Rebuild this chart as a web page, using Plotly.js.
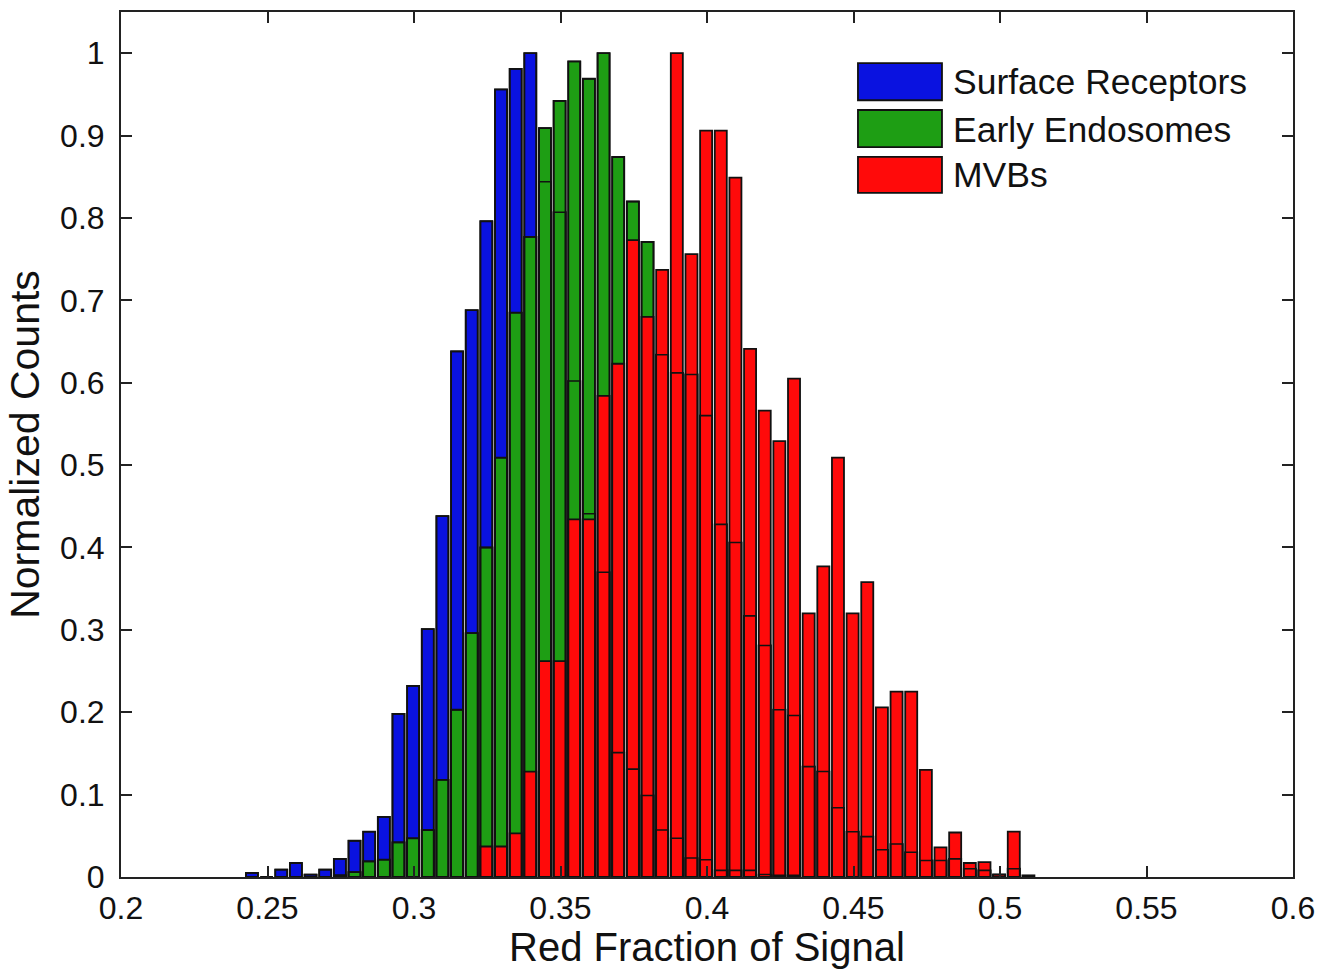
<!DOCTYPE html>
<html>
<head>
<meta charset="utf-8">
<script src="https://cdn.plot.ly/plotly-3.0.1.min.js"></script>
<style>html,body{margin:0;padding:0;background:#fff}</style>
</head>
<body>
<div id="chart" style="width:1321px;height:969px"></div>
<script>
// Bin centres (Red Fraction of Signal)
const binCenters = [
  0.2447, 0.2497, 0.2547, 0.2597, 0.2647, 0.2697, 0.2747, 0.2797, 0.2847, 0.2897,
  0.2947, 0.2997, 0.3047, 0.3097, 0.3147, 0.3197, 0.3247, 0.3297, 0.3347, 0.3397,
  0.3447, 0.3497, 0.3547, 0.3597, 0.3647, 0.3697, 0.3747, 0.3797, 0.3847, 0.3897,
  0.3947, 0.3997, 0.4047, 0.4097, 0.4147, 0.4197, 0.4247, 0.4297, 0.4347, 0.4397,
  0.4447, 0.4497, 0.4547, 0.4597, 0.4647, 0.4697, 0.4747, 0.4797, 0.4847, 0.4897,
  0.4947, 0.4997, 0.5047, 0.5097
];

// Normalized counts, Surface Receptors
const surfaceReceptors = [
  0.005, 0.000, 0.009, 0.017, 0.003, 0.009, 0.022, 0.044, 0.055, 0.073,
  0.198, 0.232, 0.301, 0.438, 0.638, 0.688, 0.796, 0.956, 0.981, 1.000,
  0.844, 0.807, 0.602, 0.441, 0.370, 0.151, 0.131, 0.099, 0.057, 0.047,
  0.023, 0.021, 0.008, 0.008, 0.008, 0.003, 0.002, 0.002, 0.000, 0.000,
  0.000, 0.000, 0.000, 0.000, 0.000, 0.000, 0.000, 0.000, 0.000, 0.000,
  0.000, 0.000, 0.000, 0.000
];

// Normalized counts, Early Endosomes
const earlyEndosomes = [
  0.000, 0.000, 0.000, 0.000, 0.000, 0.000, 0.002, 0.006, 0.019, 0.021,
  0.042, 0.047, 0.057, 0.118, 0.203, 0.296, 0.400, 0.509, 0.685, 0.777,
  0.909, 0.942, 0.990, 0.969, 1.000, 0.874, 0.820, 0.771, 0.634, 0.612,
  0.610, 0.560, 0.428, 0.406, 0.317, 0.281, 0.203, 0.196, 0.134, 0.128,
  0.084, 0.055, 0.049, 0.033, 0.040, 0.030, 0.020, 0.020, 0.022, 0.010,
  0.008, 0.003, 0.010, 0.000
];

// Normalized counts, MVBs
const mvbs = [
  0.000, 0.000, 0.000, 0.000, 0.000, 0.000, 0.000, 0.000, 0.000, 0.000,
  0.000, 0.000, 0.000, 0.000, 0.000, 0.000, 0.037, 0.037, 0.053, 0.128,
  0.262, 0.262, 0.434, 0.434, 0.584, 0.623, 0.773, 0.680, 0.737, 1.000,
  0.756, 0.906, 0.906, 0.849, 0.641, 0.566, 0.529, 0.605, 0.320, 0.377,
  0.509, 0.320, 0.358, 0.206, 0.225, 0.225, 0.130, 0.036, 0.054, 0.017,
  0.018, 0.003, 0.055, 0.002
];

const seriesNames = ['Surface Receptors', 'Early Endosomes', 'MVBs'];
const seriesColors = ['#0a12e0', '#1e9e14', '#ff0a0a'];
const xTickVals = [0.2, 0.25, 0.3, 0.35, 0.4, 0.45, 0.5, 0.55, 0.6];
const xTickText = ['0.2', '0.25', '0.3', '0.35', '0.4', '0.45', '0.5', '0.55', '0.6'];
const yTickVals = [0, 0.1, 0.2, 0.3, 0.4, 0.5, 0.6, 0.7, 0.8, 0.9, 1];
const yTickText = ['0', '0.1', '0.2', '0.3', '0.4', '0.5', '0.6', '0.7', '0.8', '0.9', '1'];

const BAR_W = 0.0041;
const EDGE = '#111';
const FONT = 'Liberation Sans, Arial, Helvetica, sans-serif';

const seriesData = [surfaceReceptors, earlyEndosomes, mvbs];

const traces = seriesData.map((vals, i) => ({
  type: 'bar',
  name: seriesNames[i],
  x: binCenters,
  y: vals,
  width: BAR_W,
  marker: { color: seriesColors[i], line: { color: EDGE, width: 1.8 } },
  showlegend: false,
  hoverinfo: 'x+y+name'
}));

// outlines of the earlier-drawn histograms, showing through on top (as in the original)
[0, 1].forEach(i => {
  traces.push({
    type: 'bar',
    name: seriesNames[i] + ' edge',
    x: binCenters,
    y: seriesData[i],
    width: BAR_W,
    marker: { color: 'rgba(0,0,0,0)', line: { color: EDGE, width: 1.6 } },
    showlegend: false,
    hoverinfo: 'skip'
  });
});

// Legend (drawn as shapes + text to match the large swatches)
const legX0 = 0.6288, legX1 = 0.7005, legTextX = 0.708;
const legRows = [[0.941, 0.898, 0.919], [0.8867, 0.8439, 0.8636], [0.8324, 0.7908, 0.8116]];
const shapes = legRows.map((r, i) => ({
  type: 'rect', xref: 'paper', yref: 'paper',
  x0: legX0, x1: legX1, y0: r[1], y1: r[0],
  fillcolor: seriesColors[i], line: { color: EDGE, width: 1.8 }
}));
const annotations = legRows.map((r, i) => ({
  xref: 'paper', yref: 'paper', x: legTextX, y: r[2],
  xanchor: 'left', yanchor: 'middle', showarrow: false,
  text: seriesNames[i], font: { family: FONT, size: 35.5, color: '#111' }
}));

const axisCommon = {
  showgrid: false, zeroline: false,
  showline: true, linecolor: '#222', linewidth: 2,
  mirror: 'ticks', ticks: 'inside', ticklen: 11, tickwidth: 2, tickcolor: '#222',
  tickfont: { family: FONT, size: 32, color: '#111' },
  automargin: false
};

const layout = {
  width: 1321, height: 969,
  margin: { l: 121, r: 28, t: 12, b: 92, pad: 0 },
  paper_bgcolor: '#fff', plot_bgcolor: '#fff',
  barmode: 'overlay',
  font: { family: FONT, color: '#111' },
  xaxis: Object.assign({}, axisCommon, {
    range: [0.2, 0.6], tickmode: 'array', tickvals: xTickVals, ticktext: xTickText,
    ticklabelstandoff: 2,
    title: { text: 'Red Fraction of Signal', font: { family: FONT, size: 40, color: '#111' }, standoff: 2 }
  }),
  yaxis: Object.assign({}, axisCommon, {
    range: [0, 1.05], tickmode: 'array', tickvals: yTickVals, ticktext: yTickText,
    ticklabelstandoff: 8,
    title: { text: 'Normalized Counts', font: { family: FONT, size: 41, color: '#111' }, standoff: 8 }
  }),
  shapes: shapes,
  annotations: annotations
};

Plotly.newPlot('chart', traces, layout, { displayModeBar: false, staticPlot: true });
</script>
</body>
</html>
